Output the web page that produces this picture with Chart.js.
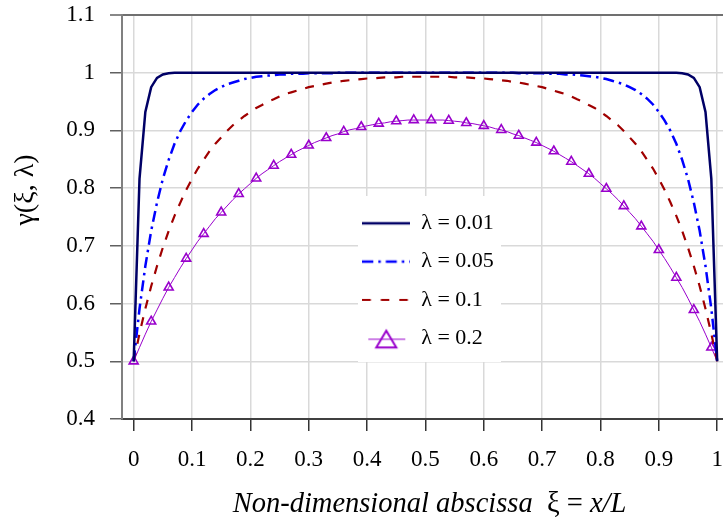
<!DOCTYPE html>
<html>
<head>
<meta charset="utf-8">
<script src="https://cdn.jsdelivr.net/npm/chart.js@4.4.1/dist/chart.umd.min.js"></script>
<style>
  html, body { margin: 0; padding: 0; background: #fff; }
</style>
</head>
<body>
<canvas id="gammaChart" width="723" height="521"></canvas>
<script>
// abscissa xi = x/L, sampled every 0.01
const xi = [
  0, 0.01, 0.02, 0.03, 0.04, 0.05, 0.06, 0.07, 0.08, 0.09,
  0.1, 0.11, 0.12, 0.13, 0.14, 0.15, 0.16, 0.17, 0.18, 0.19,
  0.2, 0.21, 0.22, 0.23, 0.24, 0.25, 0.26, 0.27, 0.28, 0.29,
  0.3, 0.31, 0.32, 0.33, 0.34, 0.35, 0.36, 0.37, 0.38, 0.39,
  0.4, 0.41, 0.42, 0.43, 0.44, 0.45, 0.46, 0.47, 0.48, 0.49,
  0.5, 0.51, 0.52, 0.53, 0.54, 0.55, 0.56, 0.57, 0.58, 0.59,
  0.6, 0.61, 0.62, 0.63, 0.64, 0.65, 0.66, 0.67, 0.68, 0.69,
  0.7, 0.71, 0.72, 0.73, 0.74, 0.75, 0.76, 0.77, 0.78, 0.79,
  0.8, 0.81, 0.82, 0.83, 0.84, 0.85, 0.86, 0.87, 0.88, 0.89,
  0.9, 0.91, 0.92, 0.93, 0.94, 0.95, 0.96, 0.97, 0.98, 0.99,
  1
];

// gamma(xi, lambda) for lambda = 0.01
const gamma001 = [
  0.5, 0.816, 0.932, 0.975, 0.991, 0.997, 0.999, 1, 1, 1,
  1, 1, 1, 1, 1, 1, 1, 1, 1, 1,
  1, 1, 1, 1, 1, 1, 1, 1, 1, 1,
  1, 1, 1, 1, 1, 1, 1, 1, 1, 1,
  1, 1, 1, 1, 1, 1, 1, 1, 1, 1,
  1, 1, 1, 1, 1, 1, 1, 1, 1, 1,
  1, 1, 1, 1, 1, 1, 1, 1, 1, 1,
  1, 1, 1, 1, 1, 1, 1, 1, 1, 1,
  1, 1, 1, 1, 1, 1, 1, 1, 1, 1,
  1, 1, 1, 1, 0.999, 0.997, 0.991, 0.975, 0.932, 0.816,
  0.5
];

// lambda = 0.05
const gamma005 = [
  0.5, 0.591, 0.665, 0.726, 0.775, 0.816, 0.849, 0.877, 0.899, 0.917,
  0.932, 0.945, 0.955, 0.963, 0.970, 0.975, 0.980, 0.983, 0.986, 0.989,
  0.991, 0.993, 0.994, 0.995, 0.996, 0.997, 0.997, 0.998, 0.998, 0.998,
  0.999, 0.999, 0.999, 0.999, 0.999, 1, 1, 1, 1, 1,
  1, 1, 1, 1, 1, 1, 1, 1, 1, 1,
  1, 1, 1, 1, 1, 1, 1, 1, 1, 1,
  1, 1, 1, 1, 1, 1, 0.999, 0.999, 0.999, 0.999,
  0.999, 0.998, 0.998, 0.998, 0.997, 0.997, 0.996, 0.995, 0.994, 0.993,
  0.991, 0.989, 0.986, 0.983, 0.980, 0.975, 0.970, 0.963, 0.955, 0.945,
  0.932, 0.917, 0.899, 0.877, 0.849, 0.816, 0.775, 0.726, 0.665, 0.591,
  0.5
];

// lambda = 0.1
const gamma01 = [
  0.5, 0.548, 0.591, 0.630, 0.665, 0.697, 0.726, 0.752, 0.775, 0.797,
  0.816, 0.834, 0.849, 0.864, 0.877, 0.888, 0.899, 0.909, 0.917, 0.925,
  0.932, 0.939, 0.944, 0.950, 0.954, 0.959, 0.963, 0.966, 0.969, 0.972,
  0.975, 0.977, 0.979, 0.981, 0.983, 0.984, 0.986, 0.987, 0.988, 0.989,
  0.990, 0.990, 0.991, 0.992, 0.992, 0.992, 0.993, 0.993, 0.993, 0.993,
  0.993, 0.993, 0.993, 0.993, 0.993, 0.992, 0.992, 0.992, 0.991, 0.990,
  0.990, 0.989, 0.988, 0.987, 0.986, 0.984, 0.983, 0.981, 0.979, 0.977,
  0.975, 0.972, 0.969, 0.966, 0.963, 0.959, 0.954, 0.950, 0.944, 0.939,
  0.932, 0.925, 0.917, 0.909, 0.899, 0.888, 0.877, 0.864, 0.849, 0.834,
  0.816, 0.797, 0.775, 0.752, 0.726, 0.697, 0.665, 0.630, 0.591, 0.548,
  0.5
];

// lambda = 0.2 (marked every third sample)
const gamma02 = [
  0.5, 0.524, 0.547, 0.569, 0.589, 0.609, 0.628, 0.645, 0.662, 0.678,
  0.693, 0.708, 0.721, 0.734, 0.747, 0.758, 0.769, 0.780, 0.790, 0.799,
  0.808, 0.817, 0.825, 0.832, 0.839, 0.846, 0.852, 0.858, 0.864, 0.869,
  0.874, 0.879, 0.883, 0.887, 0.891, 0.894, 0.898, 0.901, 0.903, 0.906,
  0.908, 0.910, 0.912, 0.913, 0.915, 0.916, 0.917, 0.918, 0.918, 0.918,
  0.918, 0.918, 0.918, 0.918, 0.917, 0.916, 0.915, 0.913, 0.912, 0.910,
  0.908, 0.906, 0.903, 0.901, 0.898, 0.894, 0.891, 0.887, 0.883, 0.879,
  0.874, 0.869, 0.864, 0.858, 0.852, 0.846, 0.839, 0.832, 0.825, 0.817,
  0.808, 0.799, 0.790, 0.780, 0.769, 0.758, 0.747, 0.734, 0.721, 0.708,
  0.693, 0.678, 0.662, 0.645, 0.628, 0.609, 0.589, 0.569, 0.547, 0.524,
  0.5
];

const seriesLabels = ['λ = 0.01', 'λ = 0.05', 'λ = 0.1', 'λ = 0.2'];
const xTicks = [0, 0.1, 0.2, 0.3, 0.4, 0.5, 0.6, 0.7, 0.8, 0.9, 1];
const yTicks = [0.4, 0.5, 0.6, 0.7, 0.8, 0.9, 1, 1.1];

const NAVY = '#000066';
const BLUE = '#0000ff';
const DARK_RED = '#a00000';
const PURPLE = '#9900cc';
const SERIF = "'Liberation Serif', 'Times New Roman', serif";

const toPoints = (ys) => xi.map((x, i) => ({ x: x, y: ys[i] }));

// little canvases used as legend keys
function legendKey(draw) {
    const c = document.createElement('canvas');
    c.width = 48;
    c.height = 26;
    const g = c.getContext('2d');
    draw(g);
    return c;
}

function strokeKey(color, width, dash) {
    return legendKey(g => {
        g.strokeStyle = color;
        g.lineWidth = width;
        g.setLineDash(dash);
        g.beginPath();
        g.moveTo(0, 13);
        g.lineTo(48, 13);
        g.stroke();
    });
}

const legendKeys = [
    strokeKey(NAVY, 2.5, []),
    strokeKey(BLUE, 2.5, [11, 5, 2.5, 5]),
    strokeKey(DARK_RED, 2.2, [8.5, 10]),
    legendKey(g => {
        g.strokeStyle = PURPLE;
        g.lineWidth = 1;
        g.beginPath();
        g.moveTo(6, 14);
        g.lineTo(43, 14);
        g.stroke();
        g.lineWidth = 2;
        g.beginPath();
        g.moveTo(24, 5.5);
        g.lineTo(34, 22.3);
        g.lineTo(14, 22.3);
        g.closePath();
        g.stroke();
    })
];

// move the legend into the plot and give it a white backing
const legendPlacement = {
    id: 'legendPlacement',
    afterLayout(chart) {
        const lg = chart.legend;
        const area = chart.chartArea;
        const w = lg.width, h = lg.height;
        lg.left = area.left + 224;
        lg.top = area.top + 181;
        lg.right = lg.left + w;
        lg.bottom = lg.top + h;
    },
    beforeDatasetsDraw(chart) {
        const lg = chart.legend;
        const ctx = chart.ctx;
        ctx.save();
        ctx.fillStyle = '#ffffff';
        ctx.fillRect(lg.left + 12, lg.top, 143, 166);
        ctx.restore();
        lg.draw(chart.chartArea);
    }
};

// draws a string made of runs in different font styles, centred on x
function drawRuns(ctx, runs, x, y, size) {
    const fonts = runs.map(r => `${r[0]} ${size}px ${SERIF}`);
    let total = 0;
    runs.forEach((r, i) => { ctx.font = fonts[i]; total += ctx.measureText(r[1]).width; });
    let cx = x - total / 2;
    ctx.textAlign = 'left';
    runs.forEach((r, i) => {
        ctx.font = fonts[i];
        ctx.fillText(r[1], cx, y);
        cx += ctx.measureText(r[1]).width;
    });
}

// axis captions: italic words with upright Greek
const axisCaptions = {
    id: 'axisCaptions',
    afterDraw(chart) {
        const ctx = chart.ctx;
        const area = chart.chartArea;
        const xs = chart.scales.x;
        ctx.save();
        ctx.fillStyle = '#000';
        ctx.textBaseline = 'alphabetic';
        drawRuns(ctx, [
            ['italic', 'Non-dimensional abscissa  '],
            ['normal', 'ξ = '],
            ['italic', 'x/L']
        ], (area.left + area.right) / 2 + 7, xs.bottom - 9, 28.5);

        ctx.translate(xs.left - 96, area.top + 175);
        ctx.rotate(-Math.PI / 2);
        ctx.textBaseline = 'middle';
        drawRuns(ctx, [['normal', 'γ(ξ, λ)']], 0, 0, 28);
        ctx.restore();
    }
};

new Chart(document.getElementById('gammaChart'), {
    type: 'line',
    data: {
        datasets: [
            {
                label: seriesLabels[0],
                data: toPoints(gamma001),
                borderColor: NAVY,
                borderWidth: 2.5,
                pointRadius: 0
            },
            {
                label: seriesLabels[1],
                data: toPoints(gamma005),
                borderColor: BLUE,
                borderWidth: 2.5,
                borderDash: [11, 5, 2.5, 5],
                pointRadius: 0
            },
            {
                label: seriesLabels[2],
                data: toPoints(gamma01),
                borderColor: DARK_RED,
                borderWidth: 2.2,
                borderDash: [9, 9],
                pointRadius: 0
            },
            {
                label: seriesLabels[3],
                data: toPoints(gamma02),
                borderColor: PURPLE,
                borderWidth: 1,
                pointStyle: 'triangle',
                pointRadius: ctx => (ctx.dataIndex % 3 === 0 ? 5.2 : 0),
                pointBorderWidth: 1.6,
                pointBorderColor: PURPLE,
                pointBackgroundColor: 'rgba(255,255,255,0)'
            }
        ]
    },
    options: {
        responsive: false,
        animation: false,
        layout: { autoPadding: false, padding: { left: 0, right: 0, top: 15, bottom: 0 } },
        elements: { line: { tension: 0, fill: false } },
        plugins: {
            tooltip: { enabled: false },
            legend: {
                position: 'chartArea',
                align: 'start',
                labels: {
                    usePointStyle: true,
                    pointStyleWidth: 48,
                    padding: 16.3,
                    color: '#000',
                    font: { family: SERIF, size: 22 },
                    generateLabels: chart => chart.data.datasets.map((ds, i) => ({
                        text: ds.label,
                        pointStyle: legendKeys[i],
                        datasetIndex: i,
                        fontColor: '#000',
                        lineWidth: 0,
                        strokeStyle: 'rgba(0,0,0,0)',
                        fillStyle: 'rgba(0,0,0,0)',
                        hidden: false
                    }))
                }
            }
        },
        scales: {
            x: {
                type: 'linear',
                min: -0.02,
                max: 1.01,
                bounds: 'data',
                afterBuildTicks: scale => { scale.ticks = xTicks.map(v => ({ value: v })); },
                afterFit: scale => {
                    scale.height = 102;
                    scale.paddingLeft = 0;
                    scale.paddingRight = 0;
                },
                ticks: {
                    color: '#000',
                    padding: 15,
                    maxRotation: 0,
                    font: { family: SERIF, size: 23 },
                    callback: v => String(v)
                },
                grid: {
                    color: '#d9d9d9',
                    lineWidth: 1.5,
                    tickColor: '#333333',
                    tickLength: 12,
                    tickWidth: 1.5
                },
                border: { color: '#404040', width: 2 }
            },
            y: {
                type: 'linear',
                min: 0.4,
                max: 1.1,
                bounds: 'data',
                afterBuildTicks: scale => { scale.ticks = yTicks.map(v => ({ value: v })); },
                afterFit: scale => {
                    scale.width = 122;
                    scale.paddingTop = 0;
                    scale.paddingBottom = 0;
                },
                ticks: {
                    color: '#000',
                    padding: 15,
                    font: { family: SERIF, size: 23 },
                    callback: v => String(v)
                },
                grid: {
                    color: ctx => (ctx.tick && ctx.tick.value === 1.1 ? '#707070' : '#d9d9d9'),
                    lineWidth: ctx => (ctx.tick && ctx.tick.value === 1.1 ? 2 : 1.5),
                    tickColor: '#606060',
                    tickLength: 12,
                    tickWidth: 1.5
                },
                border: { color: '#808080', width: 2 }
            }
        }
    },
    plugins: [legendPlacement, axisCaptions]
});
</script>
</body>
</html>
